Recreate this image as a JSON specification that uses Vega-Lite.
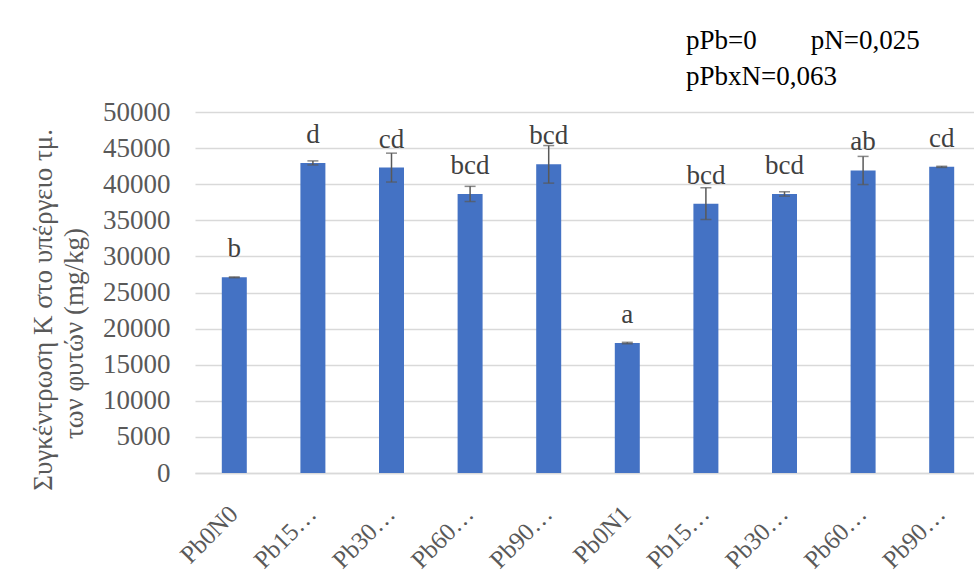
{
  "$schema": "https://vega.github.io/schema/vega-lite/v6.json",
  "width": 786,
  "height": 361,
  "autosize": {"type": "none"},
  "padding": {"left": 195, "top": 112, "right": -7, "bottom": 109},
  "background": "white",
  "config": {"view": {"stroke": null}, "font": "Liberation Serif"},
  "title": {
    "text": ["pPb=0\u00a0\u00a0\u00a0\u00a0\u00a0\u00a0\u00a0\u00a0pN=0,025", "pPbxN=0,063"],
    "anchor": "start",
    "frame": "group",
    "dx": 491,
    "fontSize": 27,
    "fontWeight": "normal",
    "color": "#000000",
    "font": "Liberation Serif",
    "lineHeight": 36,
    "offset": 4
  },
  "data": {
    "values": [
      {"treatment": "Pb0N0", "mean": 27100, "err": 60, "letter": "b"},
      {"treatment": "Pb15N0", "mean": 42950, "err": 280, "letter": "d"},
      {"treatment": "Pb30N0", "mean": 42300, "err": 2000, "letter": "cd"},
      {"treatment": "Pb60N0", "mean": 38650, "err": 1050, "letter": "bcd"},
      {"treatment": "Pb90N0", "mean": 42750, "err": 2600, "letter": "bcd"},
      {"treatment": "Pb0N1", "mean": 18000, "err": 100, "letter": "a"},
      {"treatment": "Pb15N1", "mean": 37300, "err": 2200, "letter": "bcd"},
      {"treatment": "Pb30N1", "mean": 38650, "err": 300, "letter": "bcd"},
      {"treatment": "Pb60N1", "mean": 41900, "err": 1950, "letter": "ab"},
      {"treatment": "Pb90N1", "mean": 42400, "err": 80, "letter": "cd"}
    ]
  },
  "encoding": {
    "x": {
      "field": "treatment",
      "type": "nominal",
      "sort": null,
      "scale": {"paddingInner": 0.682, "paddingOuter": 0.341},
      "axis": {
        "title": null,
        "labelAngle": -45,
        "labelFontSize": 25,
        "labelFont": "Liberation Serif",
        "labelColor": "#595959",
        "ticks": false,
        "domain": true,
        "domainColor": "#d9d9d9",
        "domainWidth": 1.3,
        "labelPadding": 28,
        "labelOffset": -9,
        "labelExpr": "length(datum.value) > 5 ? slice(datum.value, 0, 4) + '\u2026' : datum.value"
      }
    },
    "y": {
      "field": "mean",
      "type": "quantitative",
      "scale": {"domain": [0, 50000]},
      "axis": {
        "title": ["Συγκέντρωση K στο υπέργειο τμ.\u00a0\u00a0\u00a0\u00a0\u00a0\u200b", "των φυτών (mg/kg)\u00a0\u00a0\u00a0\u00a0\u00a0\u00a0\u00a0\u00a0\u00a0\u00a0\u00a0\u00a0\u200b"],
        "titleLimit": 1000,
        "values": [0, 5000, 10000, 15000, 20000, 25000, 30000, 35000, 40000, 45000, 50000],
        "format": "d",
        "domain": false,
        "ticks": false,
        "labelPadding": 25,
        "labelFontSize": 27,
        "labelFont": "Liberation Serif",
        "labelColor": "#595959",
        "gridColor": "#d9d9d9",
        "gridWidth": 1.3,
        "titleFontSize": 27,
        "titleFontWeight": "normal",
        "titleFont": "Liberation Serif",
        "titleColor": "#595959",
        "titlePadding": 14,
        "titleLineHeight": 31
      }
    }
  },
  "layer": [
    {"mark": {"type": "bar", "color": "#4472C4"}},
    {
      "mark": {"type": "errorbar", "ticks": true, "size": 11, "thickness": 1.5, "color": "#595959"},
      "encoding": {"yError": {"field": "err"}}
    },
    {
      "mark": {"type": "text", "dy": -20, "baseline": "alphabetic", "fontSize": 27, "color": "#404040", "font": "Liberation Serif"},
      "encoding": {"text": {"field": "letter"}}
    }
  ]
}
